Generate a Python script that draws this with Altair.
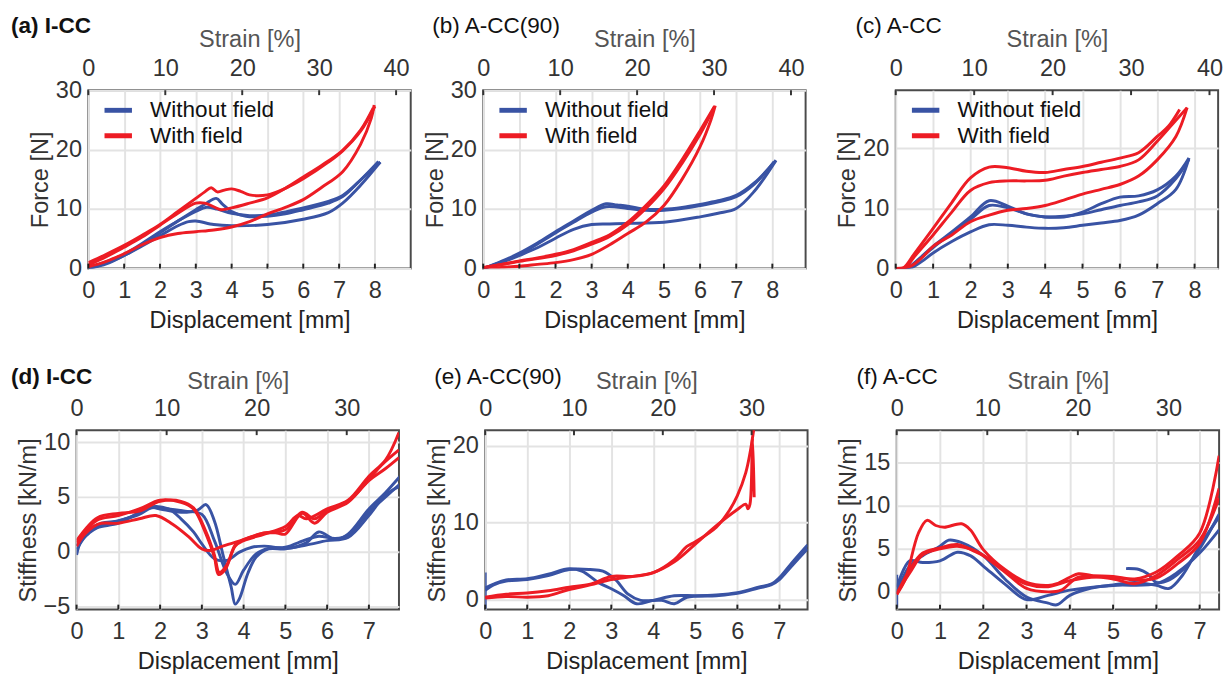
import altair as alt
import pandas as pd

FONT = "Liberation Sans"
BLUE = "#3953a4"
RED = "#ed1c24"
SERIES = ["Without field", "With field"]

# ---------------- (a) I-CC : force vs displacement ----------------
a_blue_load1 = [[0, 0], [0.5, 0.9], [1, 2.2], [1.5, 4.0], [2, 6.0], [2.5, 8.0], [3, 9.9], [3.3, 11.0], [3.57, 11.8],
                [3.75, 10.8], [4, 9.6], [4.4, 8.8], [5, 8.8], [5.5, 9.2], [6, 9.9], [6.7, 11.0], [7.1, 12.1],
                [7.6, 14.9], [8.15, 17.9]]
a_blue_load2 = [[0, 0.1], [1, 2.4], [2, 6.2], [2.5, 8.0], [3, 9.6], [3.3, 10.3], [3.6, 10.0], [4, 9.3], [4.5, 8.9],
                [5, 9.0], [6, 10.2], [6.7, 11.3], [7.1, 12.3], [7.6, 14.9], [8.1, 18.0]]
a_blue_unload = [[0, 0], [0.5, 0.8], [1, 2.2], [1.5, 3.8], [2, 5.5], [2.5, 7.2], [2.8, 7.9], [3, 8.0], [3.5, 7.4],
                 [4, 7.2], [5, 7.4], [6, 8.3], [6.7, 9.4], [7.1, 11.0], [7.6, 14.0], [8.15, 17.9]]
a_red_load1 = [[0, 1.0], [0.5, 2.4], [1, 3.9], [1.5, 5.6], [2, 7.4], [2.5, 9.6], [3, 11.8], [3.25, 12.9],
               [3.43, 13.6], [3.6, 12.9], [3.8, 13.2], [4, 13.4], [4.25, 13.0], [4.5, 12.4], [5, 12.4],
               [5.5, 13.5], [6, 15.1], [6.7, 17.9], [7.1, 19.8], [7.6, 23.1], [8, 27.3]]
a_red_load2 = [[0, 0.6], [0.5, 2.0], [1, 3.6], [1.5, 5.3], [2, 7.3], [2.5, 9.3], [3, 11.0], [3.25, 11.0],
               [3.5, 10.4], [3.7, 9.9], [4, 10.2], [4.5, 11.0], [5, 11.9], [5.5, 13.5], [6, 15.4], [6.5, 17.3],
               [7.1, 19.9], [7.6, 23.3], [7.95, 27.0]]
a_red_unload = [[0, 0.3], [0.5, 1.2], [1, 2.5], [1.5, 4.0], [2, 5.2], [2.5, 5.9], [3, 6.2], [3.5, 6.5], [4, 7.0],
                [4.5, 7.9], [5, 9.2], [5.5, 10.3], [6, 11.6], [6.5, 13.6], [7.1, 16.3], [7.6, 20.9], [7.9, 25.3],
                [7.98, 27.5]]

# ---------------- (b) A-CC(90) ----------------
b_blue_load1 = [[0, 0], [0.5, 1.2], [1, 2.6], [1.5, 4.3], [2, 6.2], [2.5, 8.0], [3, 9.8], [3.4, 10.9], [3.7, 10.7],
                [4, 10.5], [4.5, 10.0], [5, 10.0], [5.5, 10.3], [6, 10.8], [6.5, 11.4], [7, 12.3], [7.5, 14.4],
                [8.1, 18.2]]
b_blue_load2 = [[0, 0], [1, 2.4], [2, 6.0], [2.5, 7.8], [3, 9.5], [3.4, 10.4], [4, 10.1], [4.5, 9.8], [5, 9.8],
                [6, 10.6], [7, 12.1], [7.5, 14.2], [8.05, 18.0]]
b_blue_unload = [[0, 0], [0.5, 1.0], [1, 2.2], [1.5, 3.5], [2, 5.1], [2.5, 6.6], [3, 7.4], [3.5, 7.5], [4, 7.6],
                 [5, 7.8], [6, 8.7], [6.5, 9.3], [7, 10.1], [7.5, 13.0], [8.1, 18.2]]
b_red_load1 = [[0, 0.2], [0.5, 0.7], [1, 1.3], [1.5, 1.8], [2, 2.4], [2.5, 3.2], [3, 4.4], [3.5, 5.7], [4, 7.8],
               [4.5, 10.6], [5, 13.9], [5.5, 18.3], [6, 23.2], [6.4, 27.3]]
b_red_load2 = [[0, 0.1], [1, 1.2], [2, 2.2], [2.5, 3.0], [3, 4.1], [3.5, 5.4], [4, 7.4], [4.5, 10.1], [5, 13.4],
               [5.5, 17.7], [6, 22.6], [6.38, 27.0]]
b_red_unload = [[0, 0], [0.5, 0.2], [1, 0.4], [1.5, 0.7], [2, 1.0], [2.5, 1.5], [3, 2.4], [3.5, 4.0], [4, 5.9],
                [4.5, 7.8], [5, 10.6], [5.5, 15.0], [6, 20.5], [6.3, 25.0], [6.42, 27.4]]

# ---------------- (c) A-CC ----------------
c_blue_load1 = [[0, 0], [0.3, 0.1], [0.6, 1.5], [1, 3.7], [1.5, 6.1], [2, 8.6], [2.5, 11.3], [3, 10.4], [3.5, 9.1],
                [4, 8.6], [4.5, 8.6], [5, 9.4], [5.5, 10.8], [6, 11.9], [6.5, 12.1], [7, 13.1], [7.5, 15.4],
                [7.85, 18.4]]
c_blue_load2 = [[0, 0], [0.35, 0.1], [0.6, 1.4], [1, 3.5], [1.5, 5.9], [2, 8.2], [2.5, 10.5], [3, 10.1],
                [3.5, 9.1], [4, 8.6], [4.5, 8.7], [5, 9.1], [5.5, 9.8], [6, 10.5], [6.5, 11.1], [7, 12.1],
                [7.5, 15.0], [7.85, 18.2]]
c_blue_unload = [[0, 0], [0.4, 0.1], [0.7, 1.2], [1, 2.6], [1.5, 4.5], [2, 6.1], [2.5, 7.3], [3, 7.2], [3.5, 6.9],
                 [4, 6.7], [4.5, 6.8], [5, 7.2], [5.5, 7.6], [6, 8.0], [6.5, 8.9], [7, 10.8], [7.5, 13.2],
                 [7.85, 18.4]]
c_red_load1 = [[0, 0], [0.2, 0.1], [0.5, 2.5], [1, 6.7], [1.5, 11.0], [2, 15.1], [2.5, 16.9], [3, 16.8],
               [3.5, 16.2], [4, 16.0], [4.5, 16.5], [5, 17.0], [5.5, 17.7], [6, 18.4], [6.5, 19.3], [7, 22.0],
               [7.3, 23.7], [7.6, 26.5]]
c_red_load2 = [[0, 0], [0.25, 0.1], [0.5, 2.0], [1, 5.6], [1.5, 9.4], [2, 13.0], [2.5, 14.3], [3, 14.6],
               [3.5, 14.6], [4, 14.7], [4.5, 15.4], [5, 16.0], [5.5, 16.5], [6, 17.0], [6.5, 18.1], [7, 21.2],
               [7.5, 24.7], [7.8, 26.8]]
c_red_unload = [[0, 0], [0.4, 0.4], [0.7, 1.8], [1, 3.7], [1.5, 5.6], [2, 7.8], [2.5, 8.9], [3, 9.7], [3.5, 10.0],
                [4, 10.5], [4.5, 11.4], [5, 12.4], [5.5, 13.2], [6, 14.0], [6.5, 15.4], [7, 18.1], [7.5, 22.0],
                [7.8, 26.8]]

# ---------------- (d) I-CC : stiffness ----------------
d_blue_1 = [[0, -0.3], [0.1, 0.9], [0.3, 1.7], [0.5, 2.2], [1, 2.6], [1.5, 3.6], [1.7, 4.1], [2, 3.9], [2.5, 3.6],
            [2.9, 3.8], [3.1, 4.3], [3.3, 2.8], [3.5, -0.2], [3.7, -3.2], [3.8, -4.8], [3.9, -4.3], [4.1, -2.0],
            [4.3, -0.5], [4.6, 0.25], [5, 0.25], [5.5, 0.8], [5.8, 1.8], [6.2, 1.1], [6.5, 1.6], [7, 3.9],
            [7.4, 5.4], [7.75, 6.9]]
d_blue_2 = [[0, 0.2], [0.3, 1.8], [0.6, 2.4], [1, 2.8], [1.5, 3.4], [1.8, 4.0], [2.2, 3.9], [2.6, 3.7], [3, 3.4],
            [3.3, 1.0], [3.6, -2.0], [3.8, -3.0], [4, -1.7], [4.3, -0.2], [4.6, 0.3], [5, 0.4], [5.5, 1.1],
            [5.8, 1.4], [6.2, 1.2], [6.5, 1.5], [7, 3.6], [7.4, 5.0], [7.75, 6.2]]
d_blue_3 = [[0, 0.5], [0.3, 2.0], [0.6, 2.6], [1, 2.8], [1.5, 3.5], [1.8, 4.1], [2.2, 3.9], [2.5, 3.0], [2.8, 1.8],
            [3, 0.7], [3.3, -0.65], [3.6, -0.8], [3.9, -0.05], [4.2, 0.4], [4.5, 0.5], [5, 0.3], [5.5, 0.6],
            [6, 1.0], [6.5, 1.3], [7, 3.3], [7.4, 5.2], [7.75, 6.0]]
d_red_1 = [[0, 0.5], [0.3, 2.2], [0.5, 2.9], [1, 3.3], [1.5, 3.9], [2, 4.7], [2.5, 4.5], [2.8, 3.9], [3.1, 1.6],
           [3.3, -0.5], [3.4, -2.1], [3.55, -1.7], [3.8, 0.5], [4, 1.0], [4.5, 1.6], [5, 2.3], [5.3, 3.3],
           [5.5, 3.0], [6, 3.9], [6.5, 4.7], [7, 6.9], [7.4, 8.4], [7.72, 10.9]]
d_red_2 = [[0, 0.8], [0.5, 2.5], [1, 2.6], [1.5, 3.0], [1.9, 3.3], [2.3, 2.5], [2.7, 1.3], [3, 0.25], [3.2, 0.1],
           [3.5, 0.5], [4, 1.1], [4.5, 1.7], [4.8, 1.7], [5, 1.6], [5.4, 3.5], [5.7, 2.6], [6, 3.6], [6.5, 4.5],
           [7, 6.6], [7.3, 7.9], [7.72, 9.3]]
d_red_3 = [[0, 1.0], [0.5, 3.1], [1, 3.5], [1.5, 3.7], [2, 4.6], [2.5, 4.6], [2.8, 4.0], [3.1, 1.8], [3.3, -0.3],
           [3.42, -1.9], [3.6, -1.2], [3.8, 0.6], [4, 1.1], [4.5, 1.7], [5, 2.0], [5.4, 3.6], [5.7, 3.0],
           [6, 3.8], [6.5, 4.6], [7, 6.5], [7.4, 7.6], [7.72, 8.6]]

# ---------------- (e) A-CC(90) : stiffness ----------------
e_blue_spike = [[0, -1.2], [0, 3.5]]
e_blue_1 = [[0, 1.5], [0.2, 2.0], [0.5, 2.55], [1, 2.7], [1.5, 3.3], [2, 4.0], [2.3, 3.7], [2.7, 2.2], [3, 1.4],
            [3.3, 0.5], [3.6, -0.55], [4, -0.1], [4.5, 0.5], [5, 0.5], [5.5, 0.6], [6, 0.9], [6.5, 1.6],
            [6.8, 2.0], [7, 2.85], [7.3, 4.8], [7.67, 7.1]]
e_blue_2 = [[0, 1.2], [0.2, 1.9], [0.5, 2.4], [1, 2.6], [1.5, 3.1], [2, 3.9], [2.5, 3.9], [2.8, 3.7], [3.1, 2.6],
            [3.4, 0.7], [3.7, -0.1], [4.2, -0.1], [4.5, -0.55], [4.8, 0.3], [5.5, 0.5], [6, 0.8], [6.5, 1.5],
            [6.8, 1.9], [7, 2.6], [7.3, 4.4], [7.67, 6.6]]
e_red_1 = [[0, 0.3], [0.5, 0.7], [1, 0.85], [1.5, 1.15], [2, 1.6], [2.5, 2.0], [3, 3.0], [3.5, 3.0], [4, 3.5],
           [4.5, 5.2], [4.8, 6.9], [5, 7.5], [5.5, 9.4], [5.8, 11.5], [6, 13.5], [6.2, 16.5], [6.3, 19.0],
           [6.4, 22.5]]
e_red_2 = [[0, 0.2], [0.5, 0.4], [1, 0.3], [1.5, 0.5], [2, 1.3], [2.5, 1.9], [3, 2.6], [3.5, 3.0], [4, 3.5],
           [4.5, 4.9], [5, 7.2], [5.5, 9.6], [6, 11.7], [6.2, 12.4], [6.25, 11.8], [6.3, 12.4], [6.36, 21.0],
           [6.4, 13.3]]

# ---------------- (f) A-CC : stiffness ----------------
f_blue_spike = [[0, -1.8], [0, 2.0]]
f_blue_1 = [[0, 0], [0.3, 3.0], [0.6, 4.2], [1, 5.3], [1.2, 6.0], [1.5, 5.7], [2, 4.2], [2.5, 1.5], [3, -0.6],
            [3.5, -1.3], [3.7, -1.5], [4, -0.4], [4.5, 0.45], [5, 0.8], [5.5, 1.1], [6, 0.75], [6.3, 0.4],
            [6.6, 1.9], [7, 5.3], [7.45, 8.7]]
f_blue_2 = [[0, 0.5], [0.3, 3.6], [0.6, 3.4], [1, 3.6], [1.4, 4.6], [1.7, 4.2], [2, 3.0], [2.5, 0.9], [3, -0.9],
            [3.5, -0.4], [4, 0.2], [5, 0.75], [6, 0.95], [6.5, 2.3], [7, 4.5], [7.45, 7.2]]
f_blue_3 = [[5.3, 2.7], [5.6, 2.6], [5.8, 2.1], [6, 1.1], [6.3, 1.4], [6.7, 3.0], [7, 5.0], [7.45, 9.0]]
f_red_1 = [[0, -0.3], [0.2, 1.5], [0.5, 6.8], [0.7, 8.3], [0.9, 7.7], [1.1, 7.5], [1.5, 7.9], [1.7, 7.2],
           [2, 4.9], [2.5, 2.6], [3, 1.1], [3.5, 0.75], [3.7, 0.95], [4, 1.7], [4.2, 2.1], [4.5, 1.9], [5, 1.8],
           [5.5, 1.5], [6, 2.3], [6.5, 4.2], [7, 6.8], [7.45, 15.8]]
f_red_2 = [[0, -0.3], [0.3, 2.6], [0.6, 4.5], [1, 5.1], [1.4, 5.5], [1.8, 4.7], [2, 4.2], [2.5, 2.3], [3, 0.4],
           [3.5, 0.0], [3.8, 0.2], [4.2, 1.7], [5, 1.5], [5.5, 0.95], [6, 1.9], [6.5, 3.8], [7, 6.0],
           [7.45, 10.9]]
f_red_3 = [[0, -0.2], [0.3, 2.2], [0.6, 4.3], [1, 5.0], [1.4, 5.3], [1.8, 4.8], [2.2, 3.6], [2.6, 2.0], [3, 0.9],
           [3.5, 0.6], [4, 1.3], [4.5, 1.7], [5, 1.7], [5.5, 1.4], [6, 1.6], [6.5, 3.3], [7, 5.6], [7.45, 12.0]]

# tick labels
force_ticks_ab = [0, 10, 20, 30]
force_ticks_c = [0, 10, 20]
stiff_ticks_d = [-5, 0, 5, 10]
stiff_ticks_e = [0, 10, 20]
stiff_ticks_f = [0, 5, 10, 15]
disp_ticks_top = [0, 1, 2, 3, 4, 5, 6, 7, 8]
disp_ticks_bottom = [0, 1, 2, 3, 4, 5, 6, 7]
strain_ticks_top = [0, 10, 20, 30, 40]
strain_ticks_bottom = [0, 10, 20, 30]

W, H = 329, 182


def frame(curves):
    rows = []
    for series, name, pts in curves:
        for i, (x, y) in enumerate(pts):
            rows.append({"series": series, "curve": name, "i": i, "x": x, "y": y})
    return pd.DataFrame(rows)


def panel(title, tdx, tdy, curves, ylabel, xmax, smax, ydom, yticks, xticks, sticks, show_legend, h, stp,
          tweight="normal"):
    df = frame(curves)
    if show_legend:
        leg = alt.Legend(title=None, orient="none", legendX=14, legendY=9, symbolType="stroke",
                         symbolSize=784, symbolStrokeWidth=5, labelFontSize=23, labelFont=FONT,
                         labelColor="#111", labelOffset=16, rowPadding=2, clipHeight=23)
    else:
        leg = None
    lines = alt.Chart(df).mark_line(clip=True, strokeWidth=3, interpolate="catmull-rom").encode(
        x=alt.X("x:Q", scale=alt.Scale(domain=[0, xmax], nice=False, zero=False),
                axis=alt.Axis(values=xticks, title="Displacement [mm]", orient="bottom",
                              labelPadding=11, minExtent=29, maxExtent=29, titlePadding=12,
                              titleColor="#222")),
        y=alt.Y("y:Q", scale=alt.Scale(domain=ydom, nice=False, zero=False),
                axis=alt.Axis(values=yticks, title=ylabel, labelPadding=7, minExtent=34, maxExtent=34,
                              titlePadding=3, titleColor="#333")),
        color=alt.Color("series:N", scale=alt.Scale(domain=SERIES, range=[BLUE, RED]), legend=leg),
        detail="curve:N",
        order="i:Q",
    )
    top = alt.Chart(pd.DataFrame({"s": sticks})).mark_rule(color="#333", strokeWidth=2).encode(
        x=alt.X("s:Q", scale=alt.Scale(domain=[0, smax], nice=False, zero=False),
                axis=alt.Axis(orient="top", values=sticks, title="Strain [%]", grid=False,
                              labelPadding=10, minExtent=31, maxExtent=31, titlePadding=stp,
                              titleColor="#555")),
        y=alt.value(0), y2=alt.value(5),
    )
    bot = alt.Chart(pd.DataFrame({"d": xticks})).mark_rule(color="#222", strokeWidth=2).encode(
        x=alt.X("d:Q", scale=alt.Scale(domain=[0, xmax], nice=False, zero=False), axis=None),
        y=alt.value(h - 5), y2=alt.value(h),
    )
    return alt.layer(lines, top, bot).resolve_scale(x="independent").properties(
        width=W, height=h,
        title=alt.TitleParams(text=title, anchor="start", frame="group", fontSize=23, font=FONT,
                              fontWeight=tweight, color="#111", dx=tdx, dy=tdy, offset=0),
    )


def curves_of(blue, red):
    out = [("Without field", "b%d" % k, c) for k, c in enumerate(blue)]
    out += [("With field", "r%d" % k, c) for k, c in enumerate(red)]
    return out


def spacer():
    # empty, invisible column so that each row starts at its own left edge
    return alt.Chart(pd.DataFrame({"v": [0]})).mark_point(opacity=0, size=1).encode(
        x=alt.value(0), y=alt.value(0)
    ).properties(width=1, height=1,
                 view=alt.ViewBackground(stroke="transparent", strokeWidth=0, fill="transparent"))


TOP_DY = 11
BOT_DY = 20

pa = panel("(a) I-CC", -79, TOP_DY, curves_of([a_blue_load1, a_blue_load2, a_blue_unload],
                                              [a_red_load1, a_red_load2, a_red_unload]),
           "Force [N]", 9.0, 41.9, [0, 30], force_ticks_ab, disp_ticks_top, strain_ticks_top, True, H, 9,
           "bold")
pb = panel("(b) A-CC(90)", -52, TOP_DY, curves_of([b_blue_load1, b_blue_load2, b_blue_unload],
                                                  [b_red_load1, b_red_load2, b_red_unload]),
           "Force [N]", 8.92, 41.9, [0, 30], force_ticks_ab, disp_ticks_top, strain_ticks_top, True, H, 9)
pc = panel("(c) A-CC", -41, TOP_DY, curves_of([c_blue_load1, c_blue_load2, c_blue_unload],
                                              [c_red_load1, c_red_load2, c_red_unload]),
           "Force [N]", 8.63, 41.1, [0, 29.7], force_ticks_c, disp_ticks_top, strain_ticks_top, True, H, 9)
pd_ = panel("(d) I-CC", -67, BOT_DY, curves_of([d_blue_1, d_blue_2, d_blue_3], [d_red_1, d_red_2, d_red_3]),
            "Stiffness [kN/m]", 7.72, 35.8, [-5.3, 11.1], stiff_ticks_d, disp_ticks_bottom,
            strain_ticks_bottom, False, H + 1, 7, "bold")
pe = panel("(e) A-CC(90)", -52, BOT_DY, curves_of([e_blue_spike, e_blue_1, e_blue_2], [e_red_1, e_red_2]),
           "Stiffness [kN/m]", 7.67, 36.3, [-1.3, 22], stiff_ticks_e, disp_ticks_bottom,
           strain_ticks_bottom, False, H + 1, 7)
pf = panel("(f) A-CC", -41, BOT_DY, curves_of([f_blue_spike, f_blue_1, f_blue_2, f_blue_3],
                                              [f_red_1, f_red_2, f_red_3]),
           "Stiffness [kN/m]", 7.45, 35.6, [-2.05, 18.75], stiff_ticks_f, disp_ticks_bottom,
           strain_ticks_bottom, False, H + 1, 7)

row1_panels = alt.hconcat(pa, alt.hconcat(pb, pc, spacing=29).resolve_scale(color="independent"),
                          spacing=11).resolve_scale(color="independent")
row2_panels = alt.hconcat(pd_, alt.hconcat(pe, pf, spacing=28).resolve_scale(color="independent"),
                          spacing=25).resolve_scale(color="independent")
row1 = alt.hconcat(spacer(), row1_panels, spacing=0).resolve_scale(color="independent")
row2 = alt.hconcat(spacer(), row2_panels, spacing=0).resolve_scale(color="independent")

chart = alt.vconcat(row1, row2, spacing=33).resolve_scale(color="independent").properties(
    padding={"top": 0, "left": 0, "right": 0, "bottom": 0}
).configure(font=FONT).configure_view(stroke="#4a4a4a", strokeWidth=2).configure_axis(
    labelFont=FONT, titleFont=FONT, labelFontSize=24, titleFontSize=24, labelColor="#333",
    titleFontWeight="normal", domain=False, ticks=False, gridColor="#e3e3e3", gridWidth=2,
    labelFlush=False, labelOverlap=False,
)

chart.save("out.html", embed_options={"renderer": "svg", "actions": False})
